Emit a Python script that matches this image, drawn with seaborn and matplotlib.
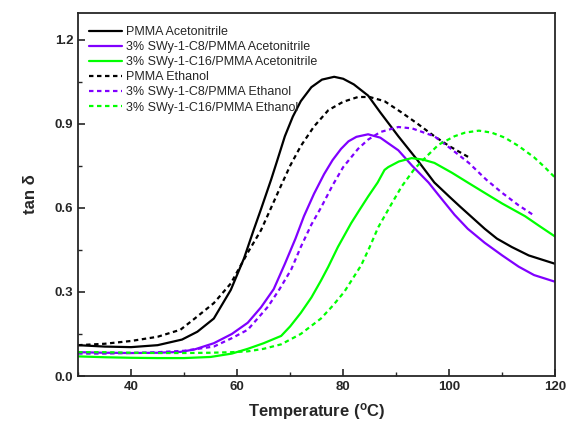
import numpy as np
import pandas as pd
import matplotlib
matplotlib.use("Agg")
import matplotlib.pyplot as plt
import seaborn as sns
from matplotlib.ticker import MultipleLocator

# ---- data ----
t_pa = [30,35,40,45,49.6,52.5,55.6,58.8,61.3,63.1,64.5,66.4,67.5,69,70.5,72,74,76,78.3,80,82,84.7,87,90.4,94,97.2,100,102,106.7,109,111.8,115,120]
v_pa = [0.11,0.105,0.103,0.11,0.13,0.158,0.205,0.307,0.42,0.52,0.595,0.70,0.765,0.855,0.925,0.98,1.03,1.057,1.067,1.06,1.04,1.0,0.94,0.855,0.77,0.69,0.64,0.605,0.525,0.49,0.46,0.43,0.40]

t_pe = [30,35,40,45,49.3,52,55.6,58.8,62,64.5,66.4,68.3,70,72,74.5,77.2,80,82.8,85,87.8,91,94,97.2,100,103.7]
v_pe = [0.11,0.115,0.125,0.14,0.165,0.205,0.26,0.33,0.44,0.52,0.60,0.68,0.75,0.82,0.89,0.948,0.978,0.995,0.995,0.98,0.94,0.90,0.855,0.82,0.78]

t_c8a = [30,35,40,45,49.3,52,55.6,59,62,64.5,66.9,69,71,72.6,74.5,76.4,78,79.6,81,82.5,84.7,87,88.5,90.4,93,96.1,98,101,103.5,106.7,110,113.1,116,120]
v_c8a = [0.085,0.083,0.082,0.083,0.086,0.095,0.117,0.15,0.19,0.245,0.31,0.40,0.49,0.57,0.65,0.72,0.77,0.81,0.837,0.853,0.862,0.85,0.83,0.805,0.75,0.69,0.645,0.575,0.525,0.475,0.43,0.39,0.36,0.336]

t_c8e = [30,35,40,45,50,55.6,59,62,65.8,68,70.2,72,74,75.8,78,80,82.8,84.7,87,90.4,93,97.2,100,103.7,107,110,113,116.2]
v_c8e = [0.08,0.08,0.082,0.085,0.09,0.105,0.135,0.165,0.247,0.31,0.38,0.46,0.54,0.60,0.68,0.745,0.81,0.843,0.87,0.888,0.883,0.855,0.815,0.76,0.70,0.653,0.61,0.57]

t_c16a = [30,35,40,45,50,55,59,62,65,68.3,70,72,74,75.8,77.2,79,81.5,83,84.7,86.5,87.8,88.5,90.5,92.9,95,97.2,100.5,103.5,106.7,110,114.3,117,120]
v_c16a = [0.07,0.067,0.065,0.064,0.064,0.068,0.08,0.097,0.117,0.143,0.177,0.225,0.28,0.34,0.39,0.46,0.545,0.59,0.64,0.69,0.735,0.745,0.765,0.777,0.772,0.76,0.725,0.69,0.653,0.615,0.57,0.535,0.497]

t_c16e = [30,35,40,45,50,55,59,62,65,68.3,72,75.8,78,80.2,83.4,85,86.6,89,91,93.5,96.1,98,101,103,105.6,108,110.5,113.1,116,118,120]
v_c16e = [0.085,0.085,0.083,0.082,0.082,0.083,0.085,0.088,0.097,0.113,0.15,0.205,0.25,0.30,0.395,0.46,0.53,0.61,0.675,0.74,0.79,0.825,0.855,0.868,0.875,0.868,0.85,0.82,0.78,0.745,0.707]

labels = ["PMMA Acetonitrile", "3% SWy-1-C8/PMMA Acetonitrile", "3% SWy-1-C16/PMMA Acetonitrile",
          "PMMA Ethanol", "3% SWy-1-C8/PMMA Ethanol", "3% SWy-1-C16/PMMA Ethanol"]
temps = [t_pa, t_c8a, t_c16a, t_pe, t_c8e, t_c16e]
vals = [v_pa, v_c8a, v_c16a, v_pe, v_c8e, v_c16e]
colors = ["#000000", "#8000FF", "#00FF00", "#000000", "#8000FF", "#00FF00"]
dashed = [False, False, False, True, True, True]

sns.set_style("ticks")
plt.rcParams['font.family'] = ['Liberation Sans', 'DejaVu Sans']
plt.rcParams['mathtext.fontset'] = 'custom'
plt.rcParams['mathtext.bf'] = 'Liberation Sans:bold'
plt.rcParams['mathtext.rm'] = 'Liberation Sans'

fig = plt.figure(figsize=(5.66, 4.29), dpi=100)
ax = fig.add_axes([0.138, 0.1235, 0.843, 0.8465])

DASH = [2.0, 1.6]
for t, v, lab, c, d in zip(temps, vals, labels, colors, dashed):
    df = pd.DataFrame({"T": t, "v": v})
    sns.lineplot(data=df, x="T", y="v", ax=ax, color=c, label=lab, linewidth=1.6)
    line = ax.get_lines()[-1]
    line.set_solid_joinstyle('round')
    if d:
        line.set_dashes(DASH)

ax.set_xlim(30, 120)
ax.set_ylim(0, 1.295)
ax.xaxis.set_minor_locator(MultipleLocator(10))
ax.yaxis.set_major_locator(MultipleLocator(0.3))
ax.yaxis.set_minor_locator(MultipleLocator(0.15))
ax.set_xticks([40, 60, 80, 100, 120])
ax.tick_params(axis='both', which='major', direction='in', length=5, width=1.2, labelsize=9.5)
ax.tick_params(axis='both', which='minor', direction='in', length=3, width=1.0)
ax.tick_params(top=False, right=False, which='both')
for lab in ax.get_xticklabels() + ax.get_yticklabels():
    lab.set_fontweight('bold')
ax.yaxis.set_major_formatter(matplotlib.ticker.FormatStrFormatter('%.1f'))
for s in ax.spines.values():
    s.set_linewidth(1.3)
    s.set_visible(True)

ax.set_xlabel(r'Temperature ($\mathregular{^o}$C)', fontsize=12, fontweight='bold', labelpad=6)
ax.set_ylabel('tan δ', fontsize=12, fontweight='bold', labelpad=12)

leg = ax.legend(loc='upper left', frameon=False, fontsize=9, handlelength=2.6,
                handletextpad=0.3, labelspacing=0.25, borderaxespad=0.5, bbox_to_anchor=(0.0, 0.995))
for i, h in enumerate(leg.get_lines()):
    h.set_linewidth(1.6)
    if dashed[i]:
        h.set_dashes(DASH)

fig.savefig("out.png", dpi=100)
